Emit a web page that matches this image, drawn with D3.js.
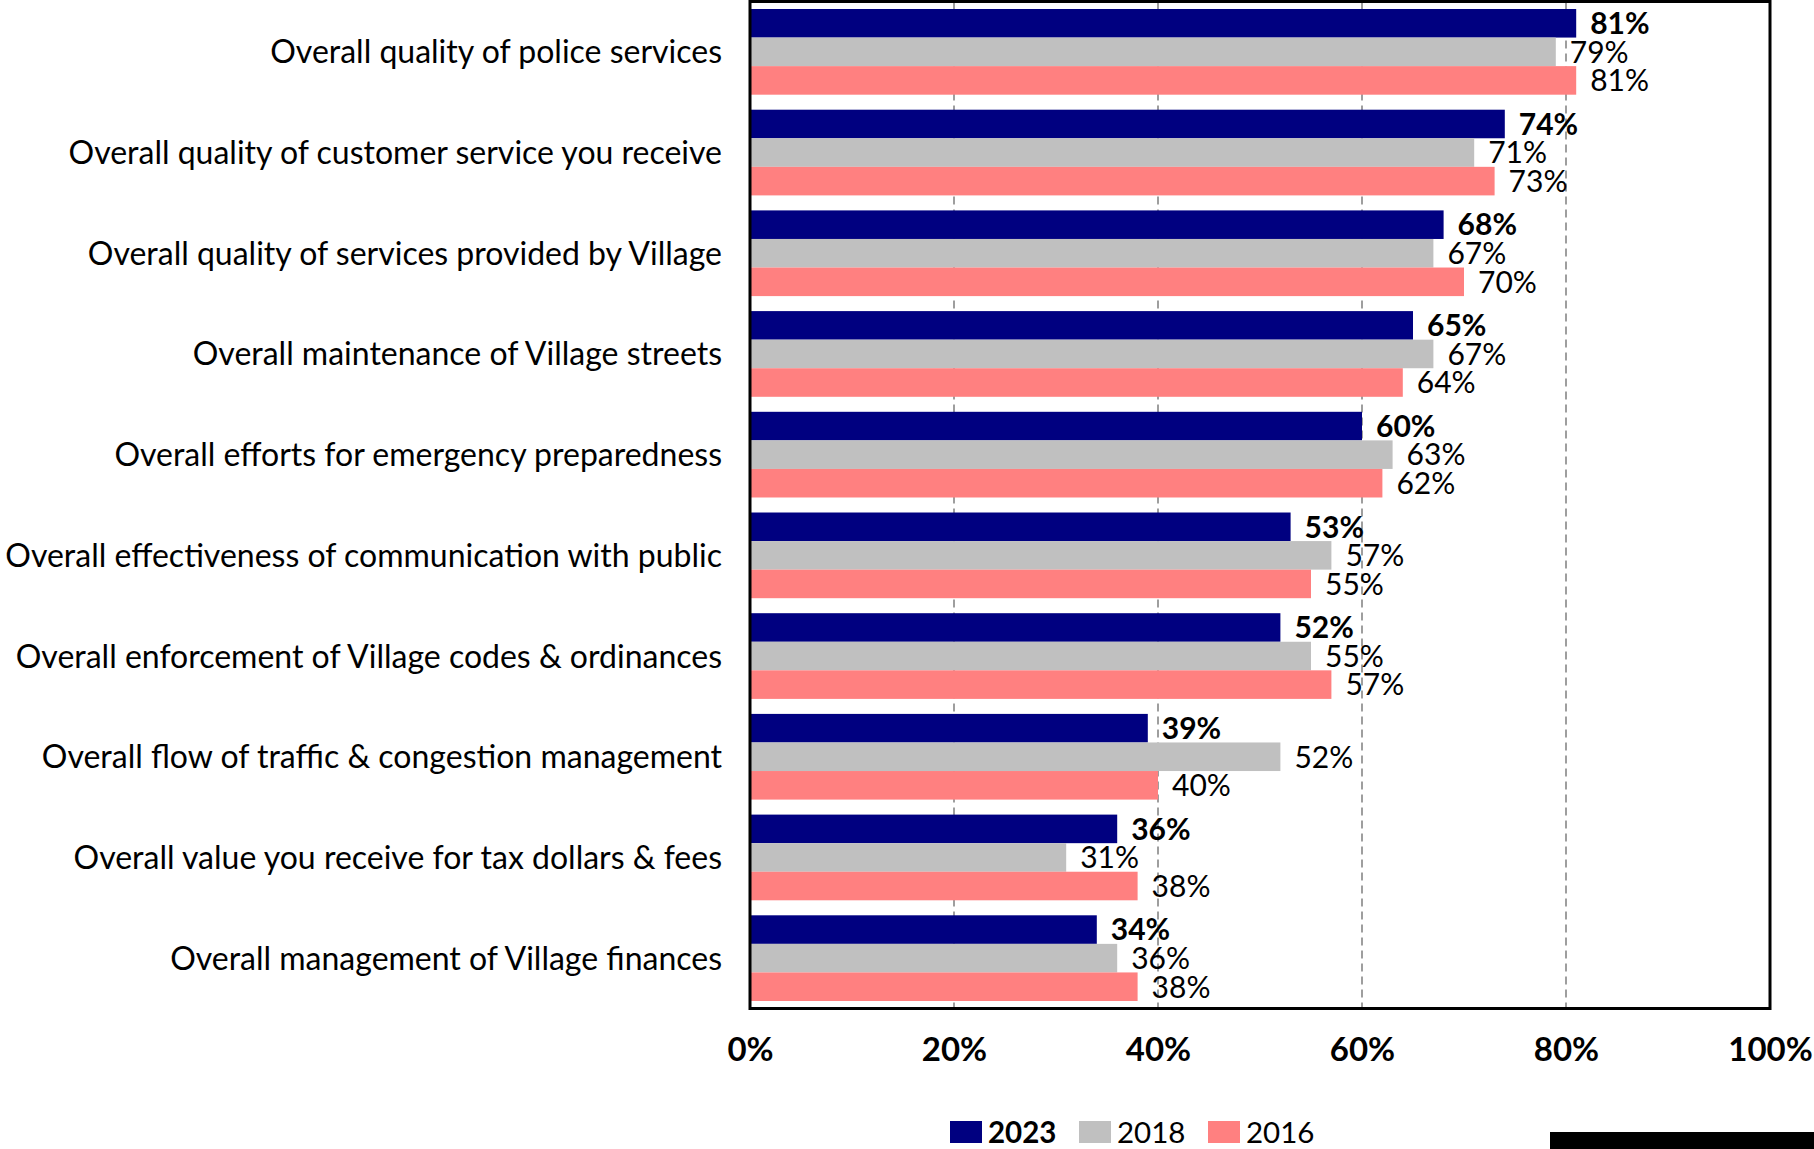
<!DOCTYPE html>
<html>
<head>
<meta charset="utf-8">
<script src="https://cdn.jsdelivr.net/npm/d3@7"></script>
<style>
  body { margin: 0; background: #fff; }
  svg { display: block; font-family: Lato, "Open Sans", sans-serif; }
</style>
</head>
<body>
<svg id="chart" width="1814" height="1149"></svg>
<script>
// Satisfaction ratings (% satisfied) by service area and survey year
const categories = [
  "Overall quality of police services",
  "Overall quality of customer service you receive",
  "Overall quality of services provided by Village",
  "Overall maintenance of Village streets",
  "Overall efforts for emergency preparedness",
  "Overall effectiveness of communication with public",
  "Overall enforcement of Village codes & ordinances",
  "Overall flow of traffic & congestion management",
  "Overall value you receive for tax dollars & fees",
  "Overall management of Village finances"
];
const years = ["2023", "2018", "2016"];
const values2023 = [81, 74, 68, 65, 60, 53, 52, 39, 36, 34];
const values2018 = [79, 71, 67, 67, 63, 57, 55, 52, 31, 36];
const values2016 = [81, 73, 70, 64, 62, 55, 57, 40, 38, 38];
const tickValues = [0, 20, 40, 60, 80, 100];
const tickLabels = ["0%", "20%", "40%", "60%", "80%", "100%"];
const yearColors = ["#000080", "#C0C0C0", "#FF8080"];

const seriesByYear = { "2023": values2023, "2018": values2018, "2016": values2016 };
const rows = categories.map((c, i) => ({
  category: c,
  values: years.map(yr => ({ year: yr, value: seriesByYear[yr][i] }))
}));

const svg = d3.select("#chart");
const plot = { left: 750, right: 1770, top: 1.5, bottom: 1008.5 };

const x = d3.scaleLinear().domain([0, 100]).range([plot.left, plot.right]);
const y = d3.scaleBand().domain(categories)
  .range([plot.top, plot.bottom]).paddingInner(0.149).paddingOuter(0.0745);
const ySub = d3.scaleBand().domain(years).range([0, y.bandwidth()]);
const color = d3.scaleOrdinal().domain(years).range(yearColors);

// dashed vertical gridlines
svg.append("g").selectAll("line")
  .data(tickValues.filter(t => t > 0 && t < 100))
  .join("line")
  .attr("x1", d => x(d)).attr("x2", d => x(d))
  .attr("y1", plot.top).attr("y2", plot.bottom)
  .attr("stroke", "#7f7f7f").attr("stroke-width", 1.5)
  .attr("stroke-dasharray", "8,5");

// grouped bars
const groups = svg.append("g").selectAll("g")
  .data(rows).join("g")
  .attr("transform", d => `translate(0,${y(d.category)})`);

groups.selectAll("rect")
  .data(d => d.values).join("rect")
  .attr("x", x(0))
  .attr("y", d => ySub(d.year))
  .attr("width", d => x(d.value) - x(0))
  .attr("height", ySub.bandwidth())
  .attr("fill", d => color(d.year));

groups.selectAll("text")
  .data(d => d.values).join("text")
  .attr("x", d => x(d.value) + 14)
  .attr("y", d => ySub(d.year) + ySub.bandwidth() / 2)
  .attr("dy", "0.36em")
  .attr("font-size", 30)
  .attr("font-weight", d => d.year === "2023" ? 700 : 400)
  .attr("fill", "#000")
  .text(d => d.value + "%");

// plot frame
svg.append("rect")
  .attr("x", plot.left).attr("y", plot.top)
  .attr("width", plot.right - plot.left).attr("height", plot.bottom - plot.top)
  .attr("fill", "none").attr("stroke", "#000").attr("stroke-width", 3);

// category labels
svg.append("g").selectAll("text")
  .data(categories).join("text")
  .attr("x", plot.left - 28)
  .attr("y", d => y(d) + y.bandwidth() / 2)
  .attr("dy", "0.36em")
  .attr("text-anchor", "end")
  .attr("font-size", 32)
  .attr("fill", "#000")
  .text(d => d);

// x axis
const xAxis = d3.axisBottom(x).tickValues(tickValues)
  .tickFormat((d, i) => tickLabels[i]).tickSize(0).tickPadding(0);
const axisG = svg.append("g")
  .attr("transform", `translate(0,${plot.bottom})`)
  .call(xAxis);
axisG.select(".domain").remove();
axisG.selectAll("text")
  .attr("y", 52).attr("dy", 0)
  .attr("font-family", "Lato, sans-serif")
  .attr("font-size", 33).attr("font-weight", 700).attr("fill", "#000");

// legend
const legendItems = [
  { year: "2023", x: 950 },
  { year: "2018", x: 1079 },
  { year: "2016", x: 1208 }
];
const legend = svg.append("g").selectAll("g")
  .data(legendItems).join("g")
  .attr("transform", d => `translate(${d.x},1121)`);
legend.append("rect")
  .attr("width", 32).attr("height", 22)
  .attr("fill", d => color(d.year));
legend.append("text")
  .attr("x", 38).attr("y", 22)
  .attr("font-size", 29.5)
  .attr("font-weight", d => d.year === "2023" ? 700 : 400)
  .text(d => d.year);

// black bar in the lower right corner
svg.append("rect")
  .attr("x", 1550).attr("y", 1132)
  .attr("width", 264).attr("height", 17)
  .attr("fill", "#000");
</script>
</body>
</html>
